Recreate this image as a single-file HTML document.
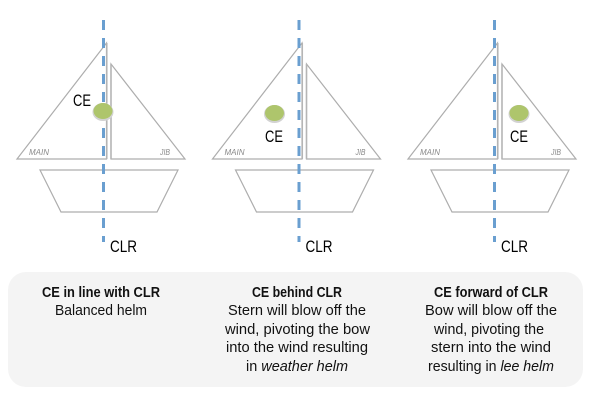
<!DOCTYPE html>
<html><head><meta charset="utf-8">
<style>html,body{margin:0;padding:0;background:#fff;width:600px;height:404px;overflow:hidden}
svg{display:block;filter:blur(.35px)}
text{font-family:"Liberation Sans",sans-serif;fill:#111}
.t{font-size:14.5px}
.l{font-size:17px;fill:#000}
.s{font-size:8px;font-style:italic;fill:#8a8a8a}
</style></head><body>
<svg width="600" height="404" viewBox="0 0 600 404" xmlns="http://www.w3.org/2000/svg">
<defs>
<g id="boat">
<polygon points="106.5,43 106.5,159 17,159" fill="none" stroke="#adadad" stroke-width="1.2"/>
<line x1="106.8" y1="43" x2="106.8" y2="159" stroke="#b5b5b5" stroke-width="1.5"/>
<polygon points="111,64 111,159 185,159" fill="none" stroke="#adadad" stroke-width="1.2"/>
<line x1="111" y1="64" x2="111" y2="159" stroke="#b5b5b5" stroke-width="1.5"/>
<polygon points="40,170 178,170 157,212 61,212" fill="none" stroke="#adadad" stroke-width="1.2"/>
<line x1="103.5" y1="20" x2="103.5" y2="242" stroke="#6a9fd0" stroke-width="3" stroke-dasharray="10 8"/>
<text x="29" y="155" class="s" textLength="20" lengthAdjust="spacingAndGlyphs">MAIN</text>
<text x="160" y="155" class="s" textLength="10" lengthAdjust="spacingAndGlyphs">JIB</text>
<text x="110" y="252" class="l" textLength="27" lengthAdjust="spacingAndGlyphs">CLR</text>
</g>
<g id="dot">
<ellipse cx="0" cy="1" rx="10.5" ry="9" fill="#d2d2d2"/>
<ellipse cx="0" cy="0" rx="9.5" ry="8" fill="#aec56c"/>
</g>
</defs>
<use href="#boat"/>
<use href="#boat" x="195.5"/>
<use href="#boat" x="391"/>
<use href="#dot" x="103" y="111"/>
<use href="#dot" x="274.5" y="113"/>
<use href="#dot" x="519" y="113"/>
<text x="73" y="106" class="l" textLength="18" lengthAdjust="spacingAndGlyphs">CE</text>
<text x="265" y="142" class="l" textLength="18" lengthAdjust="spacingAndGlyphs">CE</text>
<text x="510" y="142" class="l" textLength="18" lengthAdjust="spacingAndGlyphs">CE</text>
<rect x="8" y="272" width="575" height="115" rx="18" ry="18" fill="#f4f4f4"/>
<g class="t">
<text class="t" x="42" y="297" font-weight="bold" textLength="118" lengthAdjust="spacingAndGlyphs">CE in line with CLR</text>
<text class="t" x="55" y="315" textLength="92" lengthAdjust="spacingAndGlyphs">Balanced helm</text>

<text class="t" x="252" y="297" font-weight="bold" textLength="90" lengthAdjust="spacingAndGlyphs">CE behind CLR</text>
<text class="t" x="228" y="315" textLength="138" lengthAdjust="spacingAndGlyphs">Stern will blow off the</text>
<text class="t" x="225" y="334" textLength="145" lengthAdjust="spacingAndGlyphs">wind, pivoting the bow</text>
<text class="t" x="226" y="352" textLength="142" lengthAdjust="spacingAndGlyphs">into the wind resulting</text>
<text class="t" x="246" y="371" textLength="102" lengthAdjust="spacingAndGlyphs">in <tspan font-style="italic">weather helm</tspan></text>

<text class="t" x="434" y="297" font-weight="bold" textLength="114" lengthAdjust="spacingAndGlyphs">CE forward of CLR</text>
<text class="t" x="425" y="315" textLength="132" lengthAdjust="spacingAndGlyphs">Bow will blow off the</text>
<text class="t" x="434" y="334" textLength="110" lengthAdjust="spacingAndGlyphs">wind, pivoting the</text>
<text class="t" x="431" y="352" textLength="120" lengthAdjust="spacingAndGlyphs">stern into the wind</text>
<text class="t" x="428" y="371" textLength="126" lengthAdjust="spacingAndGlyphs">resulting in <tspan font-style="italic">lee helm</tspan></text>
</g>
</svg>
</body></html>
